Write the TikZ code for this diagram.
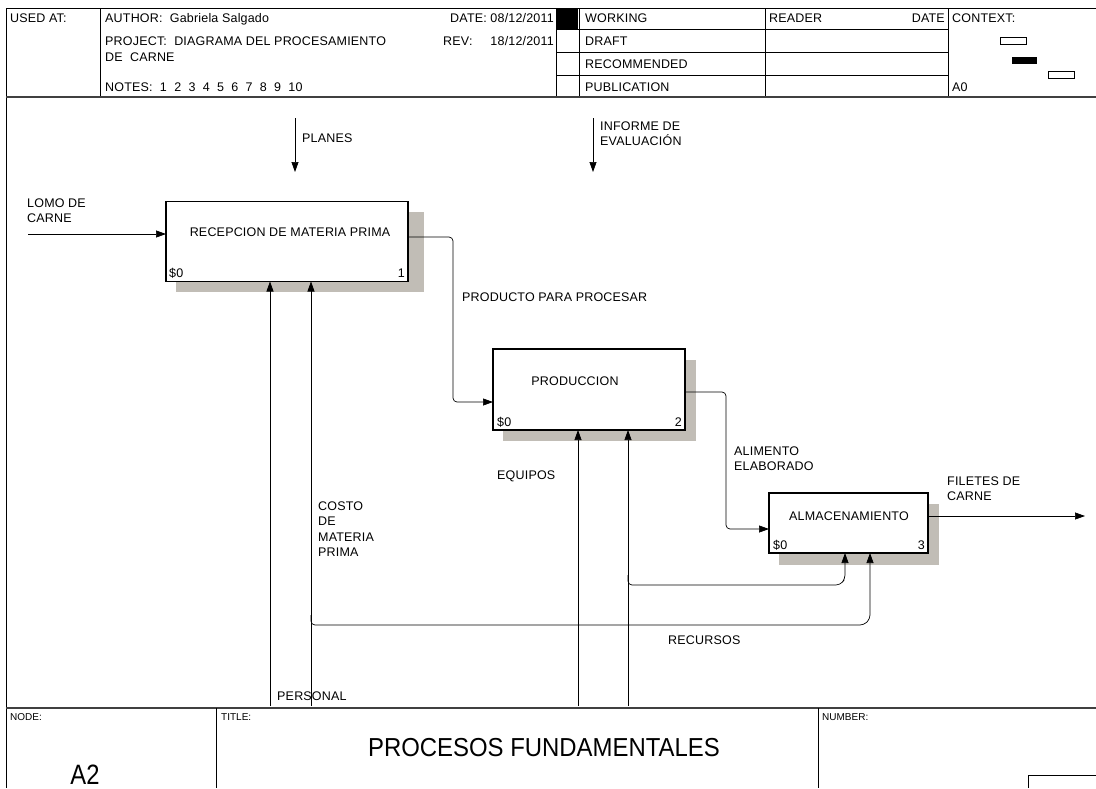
\documentclass[tikz,border=0pt]{standalone}
\usepackage{fontspec}
\setmainfont{Liberation Sans}[LetterSpace=1.5]
\newfontfamily\plainf{Liberation Sans}
\usetikzlibrary{arrows.meta,calc}
\definecolor{shadowc}{RGB}{193,189,182}
\begin{document}
\begin{tikzpicture}[x=1pt,y=-1pt,
  txt/.style={anchor=base west,inner sep=0pt,font=\fontsize{12.5}{14}\selectfont},
  txtr/.style={anchor=base east,inner sep=0pt,font=\fontsize{12.5}{14}\selectfont},
  txtc/.style={anchor=base,inner sep=0pt,font=\fontsize{12.5}{14}\selectfont},
  mtxt/.style={anchor=north west,inner sep=0pt,align=left,font=\fontsize{12.5}{15.3}\selectfont},
  small/.style={anchor=base west,inner sep=0pt,font=\plainf\fontsize{10}{12}\selectfont},
  frame/.style={line width=0.8pt},
  heavy/.style={line width=1.4pt,draw=black!75},
  proc/.style={draw,line width=1.6pt,fill=white,inner sep=0pt,outer sep=0pt},
  shadowbox/.style={fill=shadowc},
  flow/.style={line width=0.7pt},
  arr/.style={flow,-{Triangle[length=10pt,width=7pt]}},
  ctx/.style={draw,line width=0.7pt},
]
\useasboundingbox[fill=white] (0,0) rectangle (1096,788);

% ---------------- header frame ----------------
\draw[frame] (6,8) -- (1096,8);
\draw[frame] (6,8) -- (6,788);
\draw[frame] (100,8) -- (100,97);
\draw[frame] (556,29) -- (556,97);
\draw[frame] (579,8) -- (579,97);
\draw[frame] (765,8) -- (765,97);
\draw[frame] (948,8) -- (948,97);
\foreach \yy in {29.5,52.5,75.5} \draw[frame] (556,\yy) -- (948,\yy);
\fill (556,8) rectangle (578,29);
\draw[heavy] (6,97) -- (1096,97);

\node[txt] (usedat) at (10,22) {USED AT:};
\node[txt] (author) at (105,22) {AUTHOR:~~Gabriela Salgado};
\node[txtr] (date) at (554,22) {DATE: 08/12/2011};
\node[anchor=north west,inner sep=0pt,align=left,font=\fontsize{12.5}{16}\selectfont] (project) at (105,36.5) {PROJECT:~~DIAGRAMA DEL PROCESAMIENTO\\DE~~CARNE};
\node[txt] (rev) at (443,45.5) {REV:};
\node[txtr] (revdate) at (554,45.5) {18/12/2011};
\node[txt] (notes) at (105,91.5) {NOTES:~~1~~2~~3~~4~~5~~6~~7~~8~~9~~10};
\node[txt] (working) at (585,22) {WORKING};
\node[txt] (draft) at (585,45.5) {DRAFT};
\node[txt] (recom) at (585,68.5) {RECOMMENDED};
\node[txt] (public) at (585,91.5) {PUBLICATION};
\node[txt] (reader) at (769,22) {READER};
\node[txtr] (rdate) at (945,22) {DATE};
\node[txt] (context) at (952,22) {CONTEXT:};
\node[txt] (a0) at (952,91.5) {A0};
\draw[ctx] (1000,37) rectangle (1026,44);
\fill (1012,57) rectangle (1037,64);
\draw[ctx] (1048,71) rectangle (1074,78);

% ---------------- footer frame ----------------
\draw[heavy] (6,708) -- (1096,708);
\draw[frame] (216,708) -- (216,788);
\draw[frame] (818,708) -- (818,788);
\draw[frame] (1028,788) -- (1028,775) -- (1096,775);
\node[small] (nodelab) at (10,720) {NODE:};
\node[small] (titlelab) at (221,720) {TITLE:};
\node[small] (numlab) at (822,720) {NUMBER:};
\node[anchor=base,inner sep=0pt] (title) at (544,756) {\scalebox{0.92}[1]{\plainf\fontsize{26}{28}\selectfont PROCESOS FUNDAMENTALES}};
\node[anchor=base,inner sep=0pt] (nodeid) at (85,784) {\scalebox{0.85}[1]{\plainf\fontsize{28}{30}\selectfont A2}};

% ---------------- activity boxes ----------------
\fill[shadowbox] (176,212) rectangle (424,292);
\fill[shadowbox] (503,360) rectangle (696,441);
\fill[shadowbox] (779,504) rectangle (939,565);
\node[proc,minimum width=242pt,minimum height=80pt] (b1) at (287,241.5) {};
\node[proc,minimum width=192pt,minimum height=81pt] (b2) at (589,389.5) {};
\node[proc,minimum width=159pt,minimum height=60pt] (b3) at (848.5,523) {};

\node[txtc] (t1) at (290,236.5) {RECEPCION DE MATERIA PRIMA};
\node[txt] (c1) at (169,277.5) {\$0};
\node[txtr] (n1) at (405,277.5) {1};
\node[txtc] (t2) at (575,385.5) {PRODUCCION};
\node[txt] (c2) at (497,426.5) {\$0};
\node[txtr] (n2) at (682,426.5) {2};
\node[txtc] (t3) at (849,520.5) {ALMACENAMIENTO};
\node[txt] (c3) at (773,549.5) {\$0};
\node[txtr] (n3) at (925,549.5) {3};

% ---------------- free ends ----------------
\coordinate (lomo0) at (28,234);
\coordinate (plan0) at (295,118);
\coordinate (plan1) at (295,172);
\coordinate (inf0) at (593,118);
\coordinate (inf1) at (593,172);
\coordinate (fil1) at (1085,516);
\coordinate (pers0) at (270,706);
\coordinate (cost0) at (311,706);
\coordinate (equi0) at (578,706);
\coordinate (res0) at (628,706);
\coordinate (pp) at (453,237);
\coordinate (pq) at (453,402);
\coordinate (ae) at (726,392);
\coordinate (af) at (726,529);

% ---------------- connectors ----------------
\draw[arr] (lomo0) -- (lomo0 -| b1.west);
\draw[arr] (plan0) -- (plan1);
\draw[arr] (inf0) -- (inf1);
\draw[arr,rounded corners=4pt] (b1.east |- pp) -- (pp) -- (pq) -- (pq -| b2.west);
\draw[arr,rounded corners=4pt] (b2.east |- ae) -- (ae) -- (af) -- (af -| b3.west);
\draw[arr] (b3.east |- fil1) -- (fil1);
\draw[arr] (pers0) -- (pers0 |- b1.south);
\draw[arr] (cost0) -- (cost0 |- b1.south);
\draw[arr] (equi0) -- (equi0 |- b2.south);
\draw[arr] (res0) -- (res0 |- b2.south);
\draw[arr,rounded corners=4pt] (628,575) -- (628,585) -- (840,585) -- (845,579) -- (845,579 |- b3.south);
\draw[arr,rounded corners=4pt] (311,615) -- (311,625) -- (864,625) -- (870,619) -- (870,619 |- b3.south);

% ---------------- connector labels ----------------
\node[mtxt] (lomo) at (27,198.5) {LOMO DE\\CARNE};
\node[txt] (planes) at (302,142.5) {PLANES};
\node[mtxt] (informe) at (600,121.5) {INFORME DE\\EVALUACIÓN};
\node[txt] (producto) at (462,301.5) {PRODUCTO PARA PROCESAR};
\node[mtxt] (alimento) at (734,446.5) {ALIMENTO\\ELABORADO};
\node[mtxt] (filetes) at (947,476.5) {FILETES DE\\CARNE};
\node[mtxt] (costo) at (318,501.5) {COSTO\\DE\\MATERIA\\PRIMA};
\node[txt] (equipos) at (497,479.5) {EQUIPOS};
\node[txt] (recursos) at (668,644.5) {RECURSOS};
\node[txt] (personal) at (277,700.5) {PERSONAL};
\end{tikzpicture}
\end{document}
